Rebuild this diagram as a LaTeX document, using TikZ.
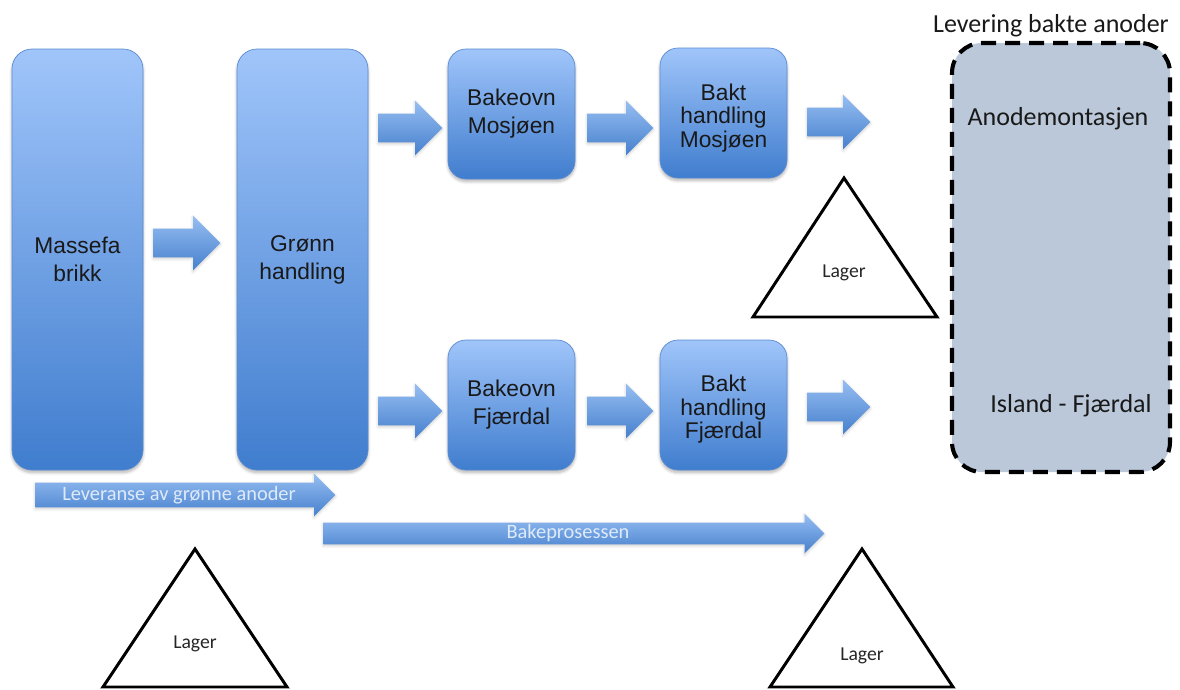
\documentclass[tikz,border=0pt]{standalone}
\usepackage{fontspec}
\setmainfont{Liberation Sans}
\newfontfamily\calib{Carlito}
\usetikzlibrary{shapes.arrows,shadows.blur}

\definecolor{boxtop}{RGB}{160,197,250}
\definecolor{boxbot}{RGB}{64,125,206}
\definecolor{boxline}{RGB}{90,140,210}
\definecolor{arrtop}{RGB}{150,190,242}
\definecolor{arrbot}{RGB}{70,128,205}
\definecolor{poolfill}{RGB}{186,200,218}
\definecolor{arrtext}{RGB}{222,234,250}

\tikzset{
  stage/.style={draw=boxline, line width=0.5pt, top color=boxtop, bottom color=boxbot,
    rounded corners=18*0.25mm, align=center, inner sep=0pt,
    font=\fontsize{16.2}{20}\selectfont, text=black!90,
    blur shadow={shadow xshift=0pt, shadow yshift=-1.8pt, shadow blur steps=6, shadow opacity=30}},
  tallstage/.style={stage, rounded corners=20*0.25mm,
    minimum width=131*0.25mm, minimum height=421*0.25mm},
  smallstage/.style={stage, minimum width=127*0.25mm, minimum height=130*0.25mm},
  stagetext/.style={align=center, inner sep=0pt, text=black!90,
    font=\fontsize{16.2}{16.8}\selectfont},
  flow/.style={single arrow, draw=none, top color=arrtop, bottom color=arrbot,
    inner sep=0pt, anchor=tail, shape border rotate=0,
    blur shadow={shadow xshift=0pt, shadow yshift=-1pt, shadow blur steps=4, shadow opacity=20}},
  stepflow/.style={flow, inner ysep=14*0.25mm, single arrow head extend=13*0.25mm,
    minimum width=54*0.25mm},
  phase/.style={flow, single arrow head extend=9*0.25mm},
  phasetext/.style={font=\calib\fontsize{14.5}{16}\selectfont, text=arrtext, anchor=base},
  note/.style={font=\calib\fontsize{18.5}{22}\selectfont, anchor=base, text=black!90},
  lagertext/.style={font=\calib\fontsize{14}{16}\selectfont, anchor=base, text=black!85},
  store/.style={draw=black, line width=2.1pt, line join=miter},
}

\begin{document}
\begin{tikzpicture}[x=0.25mm, y=-0.25mm]
  \useasboundingbox (0,0) rectangle (1180,689);

  % delivery area for baked anodes
  \node[draw=black, line width=2.9pt, dash pattern=on 15*0.25mm off 9*0.25mm,
        fill=poolfill, rounded corners=30*0.25mm, inner sep=0pt,
        minimum width=218*0.25mm, minimum height=429*0.25mm] (pool) at (1061,257.5) {};
  \node[note] (poolhead) at (1051,32) {Levering bakte anoder};
  \node[note] (mont) at (1058,125) {Anodemontasjen};
  \node[note] (isl) at (1071,412) {Island - Fjærdal};

  % process stages
  \node[tallstage] (mass) at (77.5,259.5) {Massefa\\brikk};
  \node[tallstage] (green) at (302.5,259.5) {Grønn\\handling};
  \node[smallstage] (ovnM) at (511.5,114) {Bakeovn\\Mosjøen};
  \node[smallstage] (baktM) at (723.5,113) {};
  \node[stagetext] (baktMtxt) at ([yshift=-3.5pt]baktM.center) {Bakt\\handling\\Mosjøen};
  \node[smallstage] (ovnF) at (511.5,405) {Bakeovn\\Fjærdal};
  \node[smallstage] (baktF) at (723.5,405) {};
  \node[stagetext] (baktFtxt) at ([yshift=-3pt]baktF.center) {Bakt\\handling\\Fjærdal};

  % step arrows between the stages
  \node[stepflow, minimum height=67*0.25mm] (a0) at (153,243) {};
  \node[stepflow, minimum height=64*0.25mm] (a1) at (378,128) {};
  \node[stepflow, minimum height=66*0.25mm] (a2) at (587,128) {};
  \node[stepflow, minimum height=63*0.25mm] (a3) at (807,122) {};
  \node[stepflow, minimum height=64*0.25mm] (b1) at (378,411) {};
  \node[stepflow, minimum height=66*0.25mm] (b2) at (587,411) {};
  \node[stepflow, minimum height=63*0.25mm] (b3) at (807,407) {};

  % phase arrows
  \node[phase, inner ysep=12*0.25mm, minimum width=42*0.25mm,
        minimum height=300*0.25mm] (lev) at (35,495) {};
  \node[phasetext] (levtxt) at (179,500) {Leveranse av grønne anoder};
  \node[phase, inner ysep=10.5*0.25mm, minimum width=39*0.25mm,
        minimum height=501*0.25mm] (bake) at (323,533.5) {};
  \node[phasetext] (baketxt) at (568,538) {Bakeprosessen};

  % storage triangles
  \coordinate (s1t) at (844,178);
  \coordinate (s1l) at (753,317);
  \coordinate (s1r) at (937,317);
  \draw[store] (s1t) -- (s1r) -- (s1l) -- cycle;
  \node[lagertext] (lag1) at (844,277) {Lager};

  \coordinate (s2t) at (195,549);
  \coordinate (s2l) at (103,687);
  \coordinate (s2r) at (287,687);
  \draw[store] (s2t) -- (s2r) -- (s2l) -- cycle;
  \node[lagertext] (lag2) at (195,648) {Lager};

  \coordinate (s3t) at (862,549);
  \coordinate (s3l) at (770,687);
  \coordinate (s3r) at (953,687);
  \draw[store] (s3t) -- (s3r) -- (s3l) -- cycle;
  \node[lagertext] (lag3) at (862,660) {Lager};
\end{tikzpicture}
\end{document}
